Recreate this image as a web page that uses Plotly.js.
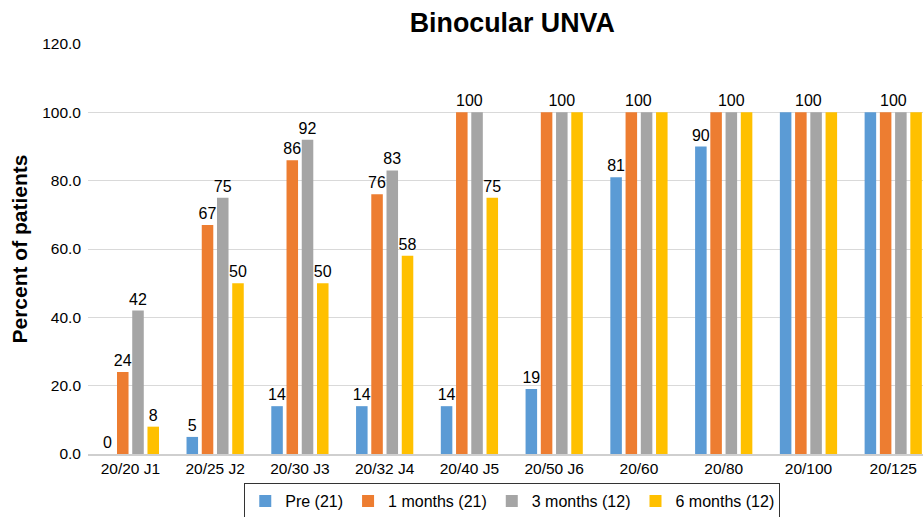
<!DOCTYPE html>
<html>
<head>
<meta charset="utf-8">
<script src="https://cdn.plot.ly/plotly-3.0.1.min.js"></script>
<style>html,body{margin:0;padding:0;background:#fff;}#chart{width:923px;height:517px;}</style>
</head>
<body>
<div id="chart"></div>
<script>
// ---- data ----
const categories = ["20/20 J1","20/25 J2","20/30 J3","20/32 J4","20/40 J5","20/50 J6","20/60","20/80","20/100","20/125"];
const seriesNames = ["Pre (21)","1 months (21)","3 months (12)","6 months (12)"];
const pre      = [0, 5, 14, 14, 14, 19, 81, 90, 100, 100];
const month1   = [24, 67, 86, 76, 100, 100, 100, 100, 100, 100];
const month3   = [42, 75, 92, 83, 100, 100, 100, 100, 100, 100];
const month6   = [8, 50, 50, 58, 75, 100, 100, 100, 100, 100];
// visible data labels per series ("" = no label)
const preLabels    = ["0","5","14","14","14","19","81","90","",""];
const month1Labels = ["24","67","86","76","","","","","",""];
const month3Labels = ["42","75","92","83","","100","","100","",""];
const month6Labels = ["8","50","50","58","75","","","","",""];
// group-centred "100" labels
const groupLabels  = ["","","","","100","","100","","100","100"];
const yTicks = [0, 20, 40, 60, 80, 100, 120];

const colors = ["#5B9BD5","#ED7D31","#A5A5A5","#FFC000"];
const FONT = "Liberation Sans, Arial, sans-serif";

const values = [pre, month1, month3, month6];
const labels = [preLabels, month1Labels, month3Labels, month6Labels];

const traces = values.map((v, i) => ({
  type: "bar",
  name: seriesNames[i],
  x: categories,
  y: v,
  marker: {color: colors[i]},
  text: labels[i],
  textposition: "outside",
  constraintext: "none",
  cliponaxis: false,
  textfont: {family: FONT, size: 16, color: "#000"},
  hoverinfo: "x+y+name"
}));

const annotations = [];
groupLabels.forEach((t, i) => {
  if (t) annotations.push({
    x: categories[i], y: month1[i], xref: "x", yref: "y",
    text: t, showarrow: false, yanchor: "bottom", yshift: 1,
    font: {family: FONT, size: 16, color: "#000"}
  });
});

const pxPerCat = 84.6;
const layout = {
  width: 923, height: 517,
  margin: {l: 88, r: 0, t: 44, b: 63, pad: 0},
  paper_bgcolor: "#fff", plot_bgcolor: "#fff",
  font: {family: FONT, color: "#000"},
  barmode: "group",
  bargap: 0.281,
  bargroupgap: 0.243,
  title: {
    text: "<b>Binocular UNVA</b>",
    font: {family: FONT, size: 26.8, color: "#000"},
    x: 0.555, xref: "container", xanchor: "center",
    y: 0.957, yref: "container", yanchor: "middle"
  },
  xaxis: {
    type: "category",
    range: [-0.5, 9.5 - 12.6 / pxPerCat],
    showgrid: false,
    showline: true, linecolor: "#cfcfcf", linewidth: 1.5,
    ticks: "", tickfont: {family: FONT, size: 15.5, color: "#000"},
    fixedrange: true
  },
  yaxis: {
    range: [0, 120],
    tickvals: yTicks,
    tickformat: ".1f",
    showgrid: true, gridcolor: "#d9d9d9", gridwidth: 1,
    zeroline: false, showline: false,
    ticks: "", ticklabelstandoff: 6,
    tickfont: {family: FONT, size: 15.5, color: "#000"},
    title: {text: "<b>Percent of patients</b>", font: {family: FONT, size: 21, color: "#000"}, standoff: 8},
    fixedrange: true
  },
  showlegend: true,
  legend: {
    orientation: "h",
    xref: "container", yref: "container",
    x: 0.555, xanchor: "center",
    y: 1 - 483 / 517, yanchor: "top",
    bordercolor: "#333", borderwidth: 1,
    bgcolor: "#fff",
    font: {family: FONT, size: 16, color: "#000"},
    itemwidth: 30,
    traceorder: "normal"
  },
  annotations: annotations
};

Plotly.newPlot("chart", traces, layout, {displayModeBar: false, staticPlot: true});
</script>
</body>
</html>
